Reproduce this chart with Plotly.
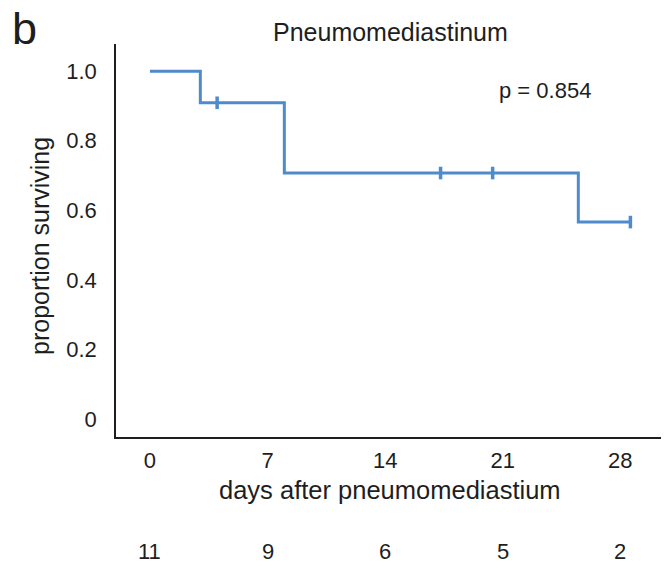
import plotly.graph_objects as go

# Data
step_times = [0, 3, 8, 25.5, 28.6]
step_surv = [1.0, 0.909, 0.707, 0.566, 0.566]
censor_times = [4, 17.3, 20.4, 28.6]
censor_surv = [0.909, 0.707, 0.707, 0.566]
tick_days = [0, 7, 14, 21, 28]
at_risk = [11, 9, 6, 5, 2]
y_ticks = [0, 0.2, 0.4, 0.6, 0.8, 1.0]
y_ticktext = ["0", "0.2", "0.4", "0.6", "0.8", "1.0"]

FONT = "Liberation Sans, Arial, sans-serif"
COLOR = "#4f8bcc"
TXT = "#1e1e1e"

fig = go.Figure()
fig.add_trace(go.Scatter(x=step_times, y=step_surv, mode="lines",
                         line=dict(shape="hv", color=COLOR, width=3),
                         showlegend=False, hoverinfo="skip"))
fig.add_trace(go.Scatter(x=censor_times, y=censor_surv, mode="markers",
                         marker=dict(symbol="line-ns", size=9,
                                     line=dict(color=COLOR, width=3.5)),
                         showlegend=False, hoverinfo="skip"))

for d, n in zip(tick_days, at_risk):
    fig.add_annotation(x=d, xref="x", y=-(551 - 437) / 393, yref="paper",
                       yanchor="middle", text=str(n), showarrow=False,
                       font=dict(family=FONT, size=22, color=TXT))

fig.add_annotation(x=23.5, xref="x", y=0.945, yref="y", text="p = 0.854",
                   showarrow=False, xanchor="center", yanchor="middle",
                   font=dict(family=FONT, size=22, color=TXT))
fig.add_annotation(x=(11 - 116) / 548, xref="paper", y=1 + (44 - 28) / 393,
                   yref="paper", text="b", showarrow=False, xanchor="left",
                   yanchor="middle", borderpad=0,
                   font=dict(family=FONT, size=45, color=TXT))
fig.add_annotation(x=0.5, xref="paper", y=1 + (44 - 32) / 393, yref="paper",
                   text="Pneumomediastinum", showarrow=False,
                   xanchor="center", yanchor="middle",
                   font=dict(family=FONT, size=25, color=TXT))
fig.add_annotation(x=0.5, xref="paper", y=-(490 - 437) / 393, yref="paper",
                   text="days after pneumomediastium", showarrow=False,
                   xanchor="center", yanchor="middle",
                   font=dict(family=FONT, size=25.5, color=TXT))
fig.add_annotation(x=-(116 - 40) / 548, xref="paper", y=0.5 - (246 - 240.5) / 393,
                   yref="paper", text="proportion surviving", showarrow=False,
                   textangle=-90, xanchor="center", yanchor="middle",
                   font=dict(family=FONT, size=25, color=TXT))

# page body adds an 8px offset; compensate so the plot area sits at 116..664 x 44..437
fig.update_layout(
    template="none",
    width=661, height=564,
    margin=dict(l=108, r=5, t=36, b=135, autoexpand=False),
    paper_bgcolor="white", plot_bgcolor="white",
    font=dict(family=FONT, color=TXT),
    xaxis=dict(range=[-2.02, 30.6], tickvals=tick_days, automargin=False,
               showgrid=False, zeroline=False, showline=True,
               linecolor=TXT, linewidth=1.5,
               ticks="outside", ticklen=3, tickcolor="rgba(0,0,0,0)",
               tickfont=dict(family=FONT, size=22, color=TXT)),
    yaxis=dict(range=[-0.052, 1.078], tickvals=y_ticks, ticktext=y_ticktext,
               automargin=False,
               showgrid=False, zeroline=False, showline=True,
               linecolor=TXT, linewidth=1.5,
               ticks="outside", ticklen=13, tickcolor="rgba(0,0,0,0)",
               tickfont=dict(family=FONT, size=22, color=TXT)),
)

fig.write_html("out.html")
